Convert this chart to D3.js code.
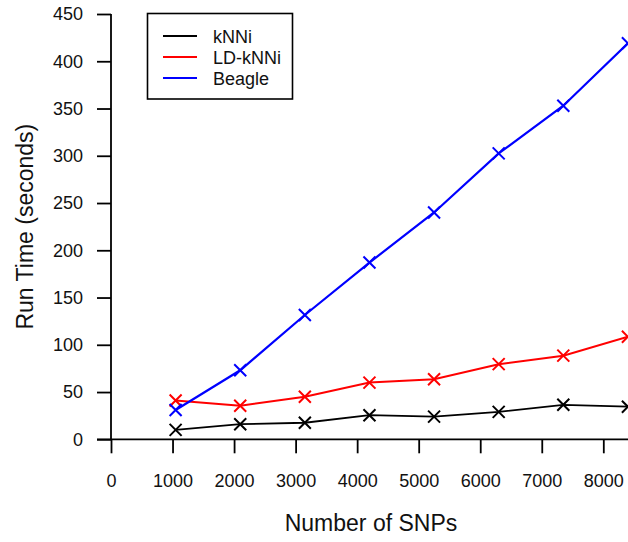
<!DOCTYPE html>
<html>
<head>
<meta charset="utf-8">
<script src="https://cdn.jsdelivr.net/npm/d3@7/dist/d3.min.js"></script>
<style>
  html, body { margin: 0; padding: 0; background: #fff; }
  svg { display: block; }
  text { font-family: "Liberation Sans", Arial, sans-serif; fill: #111; }
</style>
</head>
<body>
<script>
// Run time versus number of SNPs for three imputation methods
const snps = [1050, 2100, 3150, 4200, 5250, 6300, 7350, 8400];
const seriesNames = ["kNNi", "LD-kNNi", "Beagle"];
const seriesColors = ["#000000", "#ff0000", "#0000ff"];
const knniTime = [10, 16, 17.5, 25.5, 24, 29, 36.5, 34.5];
const ldKnniTime = [41, 35.5, 45, 60, 63.5, 79.5, 88.5, 108.5];
const beagleTime = [31, 73, 131.5, 187, 240, 302.5, 353, 419];
const xTicks = [0, 1000, 2000, 3000, 4000, 5000, 6000, 7000, 8000];
const yTicks = [0, 50, 100, 150, 200, 250, 300, 350, 400, 450];

const W = 628, H = 542;
const svg = d3.select("body").append("svg").attr("width", W).attr("height", H);

const x = d3.scaleLinear().domain([0, 8000]).range([111, 603.3]);
const y = d3.scaleLinear().domain([0, 450]).range([439.3, 14]);

const tickFont = 18;

// x axis: baseline runs across the full width
svg.append("line")
  .attr("x1", 97).attr("x2", W)
  .attr("y1", y(0)).attr("y2", y(0))
  .attr("stroke", "#000").attr("stroke-width", 1.8);
const xAxis = svg.append("g")
  .attr("transform", `translate(0,${y(0)})`)
  .call(d3.axisBottom(x).tickValues(xTicks).tickSize(14).tickPadding(21).tickFormat(d3.format("d")));
xAxis.select(".domain").remove();
xAxis.selectAll(".tick line").attr("stroke", "#000").attr("stroke-width", 1.8);
xAxis.selectAll(".tick text").attr("font-size", tickFont).attr("fill", "#111")
  .attr("font-family", "'Liberation Sans', Arial, sans-serif");

// y axis
svg.append("line")
  .attr("x1", x(0)).attr("x2", x(0))
  .attr("y1", y(450)).attr("y2", y(0))
  .attr("stroke", "#000").attr("stroke-width", 1.8);
const yAxis = svg.append("g")
  .attr("transform", `translate(${x(0)},0)`)
  .call(d3.axisLeft(y).tickValues(yTicks).tickSize(14).tickPadding(14).tickFormat(d3.format("d")));
yAxis.select(".domain").remove();
yAxis.selectAll(".tick line").attr("stroke", "#000").attr("stroke-width", 1.8);
yAxis.selectAll(".tick text").attr("font-size", tickFont).attr("fill", "#111")
  .attr("font-family", "'Liberation Sans', Arial, sans-serif");

// axis titles
svg.append("text")
  .attr("x", 371).attr("y", 531)
  .attr("text-anchor", "middle").attr("font-size", 23)
  .text("Number of SNPs");
svg.append("text")
  .attr("transform", `translate(33,${(y(0) + y(450)) / 2}) rotate(-90)`)
  .attr("text-anchor", "middle").attr("font-size", 23)
  .text("Run Time (seconds)");

// series lines and cross markers
const allSeries = [knniTime, ldKnniTime, beagleTime];
const line = d3.line().x((d, i) => x(snps[i])).y(d => y(d));
const widths = [1.8, 2, 2.2];
allSeries.forEach((vals, si) => {
  const g = svg.append("g");
  g.append("path")
    .attr("d", line(vals))
    .attr("fill", "none")
    .attr("stroke", seriesColors[si])
    .attr("stroke-width", widths[si]);
  const r = 6;
  g.selectAll("path.mk").data(vals).join("path")
    .attr("class", "mk")
    .attr("d", (d, i) => {
      const cx = x(snps[i]), cy = y(d);
      return `M${cx - r},${cy - r}L${cx + r},${cy + r}M${cx - r},${cy + r}L${cx + r},${cy - r}`;
    })
    .attr("stroke", seriesColors[si])
    .attr("stroke-width", 2);
});

// legend
const legend = svg.append("g");
legend.append("rect")
  .attr("x", 147.5).attr("y", 13.5).attr("width", 145).attr("height", 85.5)
  .attr("fill", "#fff").attr("stroke", "#000").attr("stroke-width", 1.6);
seriesNames.forEach((name, i) => {
  const ly = 36 + i * 21;
  legend.append("line")
    .attr("x1", 163).attr("x2", 197).attr("y1", ly).attr("y2", ly)
    .attr("stroke", seriesColors[i]).attr("stroke-width", 2);
  legend.append("text")
    .attr("x", 213).attr("y", ly + 6.5)
    .attr("font-size", 18)
    .text(name);
});
</script>
</body>
</html>
